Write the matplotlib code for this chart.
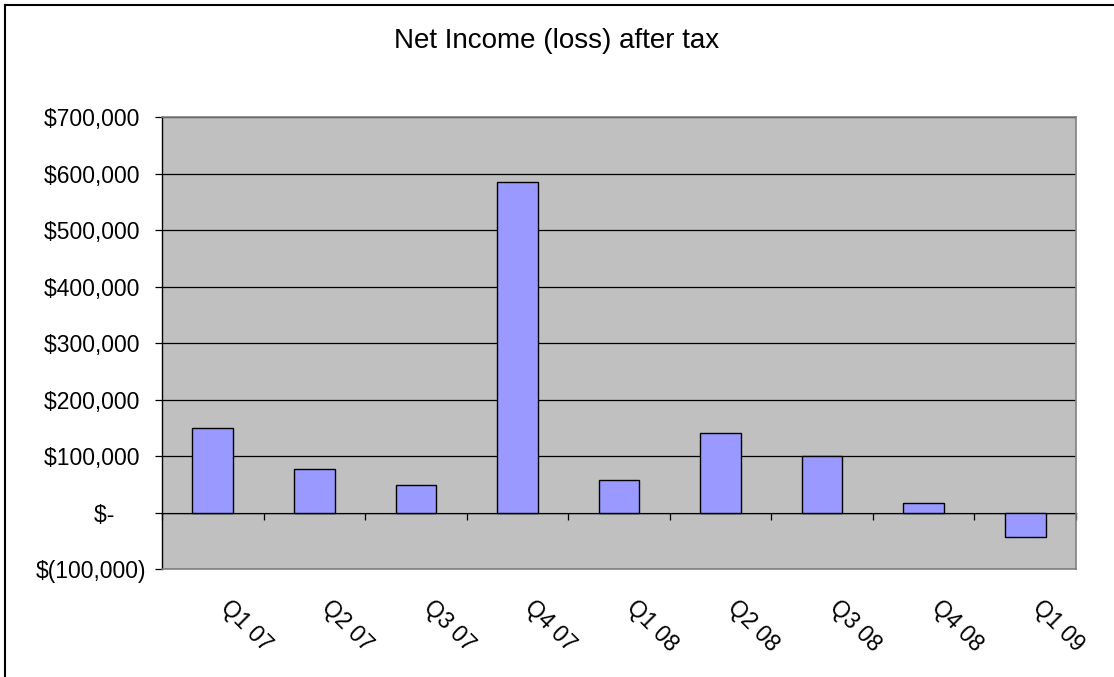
import matplotlib
matplotlib.use("Agg")
import matplotlib.pyplot as plt
import matplotlib.transforms as mtransforms
from matplotlib.ticker import FuncFormatter, FixedLocator
import numpy as np

plt.rcParams['font.family'] = ['Liberation Sans', 'DejaVu Sans']

title = "Net Income (loss) after tax"
categories = ["Q1 07", "Q2 07", "Q3 07", "Q4 07", "Q1 08", "Q2 08", "Q3 08", "Q4 08", "Q1 09"]
net_income = [150000, 77000, 48000, 585000, 58000, 141000, 100000, 16000, -44000]
y_ticks = [-100000, 0, 100000, 200000, 300000, 400000, 500000, 600000, 700000]

fig = plt.figure(figsize=(11.14, 6.77), dpi=100)
ax = fig.add_axes([162/1114, 1 - 569/677, (1076-162)/1114, (569-117)/677])
ax.set_facecolor('#C0C0C0')

x = np.arange(len(categories))
ax.bar(x, net_income, width=0.4, color='#9999FF', edgecolor='black', linewidth=1.0, zorder=3)

ymin, ymax = y_ticks[0], y_ticks[-1]
ax.set_ylim(ymin, ymax)
ax.set_xlim(-0.5, len(categories) - 0.5)

def money(v, pos=None):
    # accounting-style alignment
    if v == 0:
        return "$-     "
    if v < 0:
        return "$({:,.0f})".format(-v)
    return "${:,.0f} ".format(v)

ax.yaxis.set_major_locator(FixedLocator(y_ticks))
ax.yaxis.set_major_formatter(FuncFormatter(money))
ax.tick_params(axis='y', direction='out', length=5, width=0.9, color='black',
               labelsize=16.5, pad=6.5)
ax.grid(axis='y', color='black', linewidth=0.9, zorder=1)
ax.set_axisbelow(True)

# x labels at bottom
ax.set_xticks(x)
ax.set_xticklabels(categories)
ax.tick_params(axis='x', length=0, labelsize=16.5, pad=25)
offset = mtransforms.ScaledTranslation(11/100, 0, fig.dpi_scale_trans)
for lab in ax.get_xticklabels():
    lab.set_rotation(-45)
    lab.set_rotation_mode('anchor')
    lab.set_ha('left')
    lab.set_va('center')
    lab.set_transform(lab.get_transform() + offset)

for s in ['top', 'right', 'bottom']:
    ax.spines[s].set_color('#808080')
    ax.spines[s].set_linewidth(1.2)
ax.spines['left'].set_color('black')
ax.spines['left'].set_linewidth(1.0)

# category axis line at zero with boundary ticks
zero_frac = (0 - ymin) / (ymax - ymin)
sec = ax.secondary_xaxis(zero_frac)
sec.set_xticks(np.arange(len(categories) + 1) - 0.5)
sec.tick_params(axis='x', direction='out', length=5, width=0.9, color='black',
                labelbottom=False, labeltop=False, bottom=True, top=False)
sec.xaxis.set_ticks_position('bottom')
sec.set_xticklabels([])
sec.spines['bottom'].set_color('black')
sec.spines['bottom'].set_linewidth(1.0)
for s in ['top', 'left', 'right']:
    sec.spines[s].set_visible(False)

fig.text(0.5, 1 - 41/677, title, ha='center', va='center', fontsize=20)

# outer chart border (top and left visible)
fig.add_artist(plt.Line2D([4.5/1114, 1.0], [1 - 5/677, 1 - 5/677], color='black', linewidth=1.5, transform=fig.transFigure))
fig.add_artist(plt.Line2D([4.5/1114, 4.5/1114], [0, 1 - 5/677], color='black', linewidth=1.5, transform=fig.transFigure))

fig.savefig('out.png', dpi=100)
